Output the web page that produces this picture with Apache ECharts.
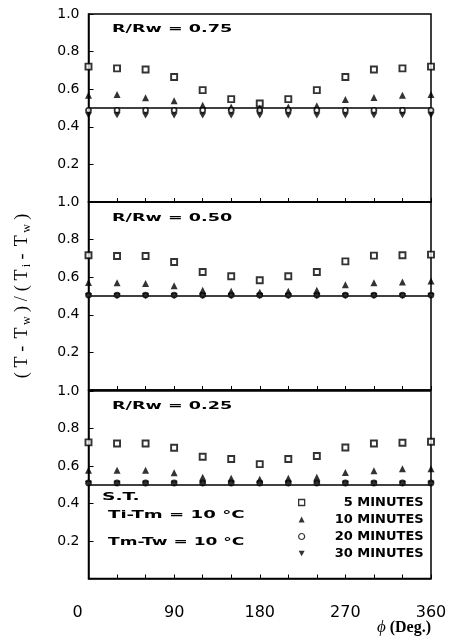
<!DOCTYPE html>
<html><head><meta charset="utf-8">
<script src="https://cdn.jsdelivr.net/npm/echarts@6/dist/echarts.min.js"></script>
<style>html,body{margin:0;padding:0;background:#fff}#c{width:451px;height:642px}</style>
</head><body><div id="c"></div>
<script>
const phi = [0,30,60,90,120,150,180,210,240,270,300,330,360];
const seriesNames = ['5 MINUTES','10 MINUTES','20 MINUTES','30 MINUTES'];
const panelLabels = ['R/Rw = 0.75','R/Rw = 0.50','R/Rw = 0.25'];
const refLevel = 0.5;
const xTickLabels = [0,90,180,270,360];

// Panel 1: R/Rw = 0.75
const p1_5  = [0.720,0.711,0.705,0.665,0.595,0.547,0.524,0.547,0.595,0.665,0.705,0.711,0.720];
const p1_10 = [0.568,0.572,0.554,0.538,0.515,0.505,0.500,0.505,0.512,0.545,0.556,0.568,0.572];
const p1_20 = [0.488,0.488,0.488,0.488,0.488,0.488,0.488,0.488,0.488,0.488,0.488,0.488,0.488];
const p1_30 = [0.462,0.462,0.460,0.460,0.460,0.460,0.460,0.460,0.460,0.460,0.460,0.462,0.462];
// Panel 2: R/Rw = 0.50
const p2_5  = [0.717,0.713,0.713,0.681,0.628,0.605,0.584,0.605,0.628,0.684,0.715,0.717,0.720];
const p2_10 = [0.572,0.570,0.566,0.554,0.530,0.525,0.520,0.525,0.530,0.560,0.570,0.575,0.580];
const p2_20 = [0.505,0.505,0.505,0.505,0.505,0.505,0.505,0.505,0.505,0.505,0.505,0.505,0.505];
const p2_30 = [0.500,0.500,0.500,0.500,0.500,0.500,0.500,0.500,0.500,0.500,0.500,0.500,0.500];
// Panel 3: R/Rw = 0.25
const p3_5  = [0.726,0.720,0.720,0.697,0.649,0.637,0.610,0.637,0.653,0.699,0.720,0.724,0.729];
const p3_10 = [0.578,0.578,0.578,0.564,0.540,0.535,0.530,0.535,0.540,0.565,0.575,0.585,0.585];
const p3_20 = [0.510,0.510,0.510,0.510,0.510,0.510,0.510,0.510,0.510,0.510,0.510,0.510,0.510];
const p3_30 = [0.505,0.505,0.505,0.505,0.505,0.505,0.505,0.505,0.505,0.505,0.505,0.505,0.505];

const panels = [[p1_5,p1_10,p1_20,p1_30],[p2_5,p2_10,p2_20,p2_30],[p3_5,p3_10,p3_20,p3_30]];

const downTri = 'path://M0,0 L10,0 L5,9 Z';
const symStyles = [
  {symbol:'rect', symbolSize:6, itemStyle:{color:'#fff', borderColor:'#000', borderWidth:1.9}},
  {symbol:'triangle', symbolSize:7, itemStyle:{color:'#000'}},
  {symbol:'circle', symbolSize:5, itemStyle:{color:'#fff', borderColor:'#000', borderWidth:1.7}},
  {symbol:downTri, symbolSize:[7,6], itemStyle:{color:'#000'}}
];

const gridTops = [14, 202, 391];
const gridHeights = [188, 188, 187.5];
const LEFT = 88.5, RIGHT = 20;

const grids = gridTops.map((t,i)=>({left:LEFT, right:RIGHT, top:t, height:gridHeights[i], show:true, borderColor:'#000', borderWidth:1.5}));

const xAxes = gridTops.map((t,i)=>({
  gridIndex:i, type:'value', min:0, max:360, interval:30,
  axisLine:{onZero:false, lineStyle:{color:'#000', width:1.5}},
  axisTick:{inside:true, length:4, lineStyle:{color:'#000', width:1}},
  splitLine:{show:false},
  axisLabel:{show:i===2, color:'#000', fontFamily:'DejaVu Sans', fontSize:16, margin:26,
    formatter:v=> xTickLabels.indexOf(v)<0 ? '' : (v===0 ? '{z|0}' : String(v)),
    rich:{z:{fontFamily:'DejaVu Sans', fontSize:16, color:'#000', padding:[0,22,0,0]}}}
}));

const yAxes = gridTops.map((t,i)=>{
  const ax = {
    gridIndex:i, type:'value', min:0, max:1, interval:0.2,
    axisLine:{onZero:false, lineStyle:{color:'#000', width:1.5}},
    axisTick:{inside:true, length:5, lineStyle:{color:'#000', width:1}},
    splitLine:{show:false},
    axisLabel:{color:'#000', fontFamily:'DejaVu Sans', fontSize:14, margin:9,
      formatter:v=> v===0 ? '' : v.toFixed(1)}
  };
  if(i===1){
    const chars = ['(','T','-',' ','T','w',')','/','(','T','i','-',' ','T','w',')'];
    const subs = {5:1,10:1,14:1};
    ax.name = chars.map((c,k)=> subs[k] ? '{s|'+c+'}' : (c===' ' ? '{g| }' : '{t|'+c+'}')).join('');
    ax.nameLocation = 'middle';
    ax.nameRotate = 90;
    ax.nameGap = 56;
    ax.nameTextStyle = {rich:{
      t:{fontFamily:'Liberation Serif', fontSize:18, color:'#000', padding:[0,2.4], lineHeight:20, verticalAlign:'middle'},
      g:{fontFamily:'Liberation Serif', fontSize:10, color:'#000', lineHeight:20, verticalAlign:'middle'},
      s:{fontFamily:'Liberation Serif', fontSize:12, color:'#000', padding:[6,2,0,0], lineHeight:20, verticalAlign:'bottom'}
    }};
  }
  return ax;
});

const series = [];
panels.forEach((arrs,pi)=>{
  arrs.forEach((vals,si)=>{
    const s = Object.assign({
      type:'scatter', name:seriesNames[si], xAxisIndex:pi, yAxisIndex:pi,
      data: phi.map((x,k)=>[x, vals[k]]), clip:false, z:3+si
    }, JSON.parse(JSON.stringify(symStyles[si])));
    if(si===0){
      s.markLine = {silent:true, symbol:'none', label:{show:false}, animation:false,
        lineStyle:{color:'#000', type:'solid', width:1.6}, data:[{yAxis:refLevel}]};
    }
    series.push(s);
  });
});

const annFont = 'bold 11px "DejaVu Sans"';
function ann(text, x, y, sx){
  return {type:'text', x:x, y:y, scaleX:sx, z:10,
    style:{text:text, font:annFont, fill:'#000', textAlign:'left', textVerticalAlign:'middle'}};
}

const graphics = [
  ann(panelLabels[0], 112, 29, 1.6),
  ann(panelLabels[1], 112, 218, 1.6),
  ann(panelLabels[2], 112, 406, 1.6),
  ann('S.T.', 102, 497, 1.7),
  ann('Ti-Tm = 10 °C', 108, 515, 1.65),
  ann('Tm-Tw = 10 °C', 108, 542, 1.55),
  {type:'text', x:431, y:628, z:10, style:{
    text:'{p|ϕ}{d| (Deg.)}', textAlign:'right', textVerticalAlign:'middle',
    rich:{p:{fontFamily:'Liberation Serif', fontStyle:'italic', fontSize:17, fill:'#000'},
          d:{fontFamily:'Liberation Serif', fontWeight:'bold', fontSize:16, fill:'#000'}}}}
];

const legendData = seriesNames.map((n,i)=>{
  const d = {name:n};
  if(i===0) d.itemStyle = {borderWidth:1.3};
  if(i===2) d.itemStyle = {borderWidth:1.2};
  return d;
});

const option = {
  backgroundColor:'#fff',
  animation:false,
  grid:grids, xAxis:xAxes, yAxis:yAxes, series:series,
  legend:{
    data:legendData, orient:'vertical', left:293, top:491,
    itemWidth:6, itemHeight:6, itemGap:4, selectedMode:false,
    textStyle:{color:'#000',
      rich:{r:{fontFamily:'DejaVu Sans', fontWeight:'bold', fontSize:13, color:'#000', width:114, align:'right', lineHeight:14}}},
    formatter:n=>'{r|'+n+'}'
  },
  graphic:graphics
};

const chart = echarts.init(document.getElementById('c'), null, {renderer:'canvas'});
chart.setOption(option);
</script></body></html>
